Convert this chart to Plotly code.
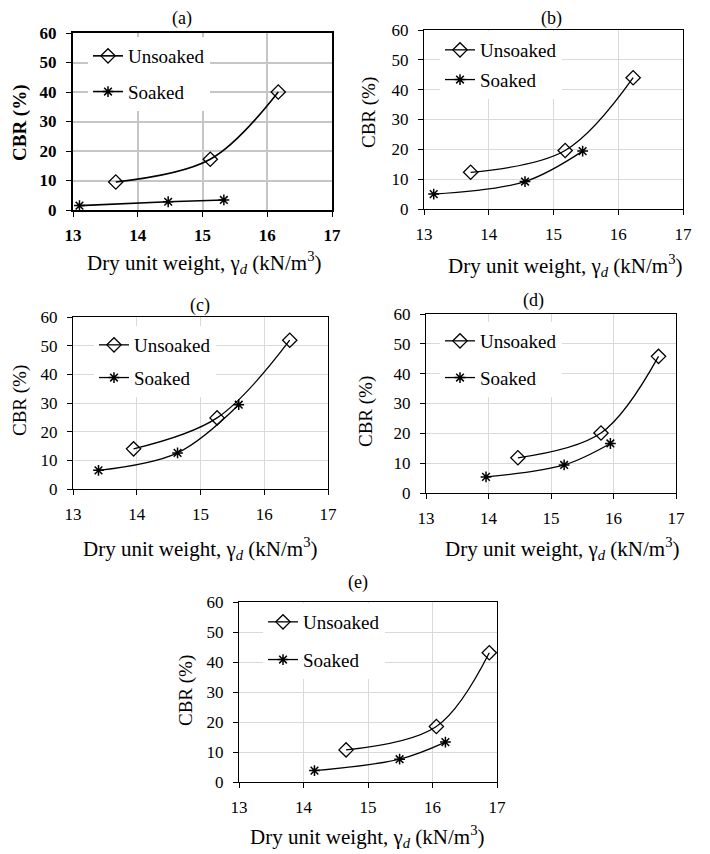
import plotly.graph_objects as go

# the page keeps the browser's default 8px body margin; the figure fills the rest of the window
OFF = 8
W, H = 710 - OFF, 854 - OFF

# ---------------- data ----------------
panels = ["(a)", "(b)", "(c)", "(d)", "(e)"]
series_names = ["Unsoaked", "Soaked"]
x_ticks = [13, 14, 15, 16, 17]
y_ticks = [0, 10, 20, 30, 40, 50, 60]

a_uns_x = [13.66, 15.12, 16.17]
a_uns_y = [9.5, 17.2, 40.0]
a_soak_x = [13.10, 14.47, 15.33]
a_soak_y = [1.5, 2.8, 3.4]

b_uns_x = [13.72, 15.18, 16.23]
b_uns_y = [12.3, 19.6, 44.0]
b_soak_x = [13.15, 14.56, 15.45]
b_soak_y = [5.0, 9.2, 19.4]

c_uns_x = [13.95, 15.26, 16.40]
c_uns_y = [14.0, 24.8, 51.9]
c_soak_x = [13.40, 14.64, 15.60]
c_soak_y = [6.5, 12.6, 29.4]

d_uns_x = [14.47, 15.80, 16.72]
d_uns_y = [11.8, 20.1, 45.8]
d_soak_x = [13.96, 15.21, 15.95]
d_soak_y = [5.4, 9.4, 16.6]

e_uns_x = [14.66, 16.06, 16.88]
e_uns_y = [10.7, 18.5, 43.1]
e_soak_x = [14.17, 15.49, 16.20]
e_soak_y = [3.8, 7.6, 13.3]

data = [
    (a_uns_x, a_uns_y, a_soak_x, a_soak_y),
    (b_uns_x, b_uns_y, b_soak_x, b_soak_y),
    (c_uns_x, c_uns_y, c_soak_x, c_soak_y),
    (d_uns_x, d_uns_y, d_soak_x, d_soak_y),
    (e_uns_x, e_uns_y, e_soak_x, e_soak_y),
]

# ---------------- layout (pixel positions in the window) ----------------
boxes = [
    (73, 332, 33, 210),
    (424, 683, 30, 209),
    (73, 328, 317, 489),
    (426, 676, 314, 493),
    (239, 497, 602, 782),
]
title_pos = [(182, 19), (551, 19), (200, 306), (533, 300), (358, 582)]
xtitle_pos = [(204, 263), (565, 265), (200, 548), (562, 548), (367, 836)]
ytitle_pos = [(20, 123), (369, 113), (20, 401), (366, 412), (186, 691)]
legend_pos = [(88, 37, 8), (440, 31, 2), (94, 326, 5), (440, 322, 9), (263, 603, 10)]

FONT = "Liberation Serif"


def px(x):
    return (x - OFF) / W


def py(y):
    return 1 - (y - OFF) / H


fig = go.Figure()

for i, (ux, uy, sx, sy) in enumerate(data):
    k = "" if i == 0 else str(i + 1)
    leg = "legend" + k
    xa = "x" + k
    ya = "y" + k
    lw = 1.6 if i == 0 else 1.3
    fig.add_trace(go.Scatter(
        x=ux, y=uy, mode="lines+markers", name=series_names[0],
        line=dict(color="black", width=lw, shape="spline", smoothing=1.0),
        marker=dict(symbol="diamond-open", size=11, color="black",
                    line=dict(color="black", width=1.3)),
        xaxis=xa, yaxis=ya, legend=leg, legendgroup=f"u{i}", showlegend=True))
    fig.add_trace(go.Scatter(
        x=sx, y=sy, mode="lines+markers", name=series_names[1],
        line=dict(color="black", width=lw, shape="spline", smoothing=1.0),
        marker=dict(symbol="asterisk-open", size=9, color="black",
                    line=dict(color="black", width=1.5)),
        xaxis=xa, yaxis=ya, legend=leg, legendgroup=f"s{i}", showlegend=True))

layout = dict(
    width=W, height=H,
    margin=dict(l=0, r=0, t=0, b=0, autoexpand=False),
    paper_bgcolor="white", plot_bgcolor="white",
    font=dict(family=FONT, color="black"),
    annotations=[],
)

for i, (l, r, t, b) in enumerate(boxes):
    k = "" if i == 0 else str(i + 1)
    bold = (i == 0)
    gridc = "#c6c6c6" if bold else "#d9d9d9"
    gridw = 2 if bold else 1
    linew = 2 if bold else 1.3
    tf = dict(family=FONT, size=17, color="black", weight="bold" if bold else "normal")
    layout["xaxis" + k] = dict(
        domain=[px(l), px(r)], anchor="y" + k,
        range=[13, 17], tickvals=x_ticks, ticktext=[str(v) for v in x_ticks],
        showgrid=True, gridcolor=gridc, gridwidth=gridw,
        showline=True, linecolor="black", linewidth=linew, mirror=True,
        ticks="outside", ticklen=5, tickcolor="black", tickwidth=1,
        tickfont=tf, ticklabelstandoff=4, zeroline=False, fixedrange=True,
        automargin=False)
    layout["yaxis" + k] = dict(
        domain=[py(b), py(t)], anchor="x" + k,
        range=[0, 60], tickvals=y_ticks, ticktext=[str(v) for v in y_ticks],
        showgrid=True, gridcolor=gridc, gridwidth=gridw,
        showline=True, linecolor="black", linewidth=linew, mirror=True,
        ticks="outside", ticklen=5, tickcolor="black", tickwidth=1,
        tickfont=tf, ticklabelstandoff=6, zeroline=False, fixedrange=True,
        automargin=False)

    lx, ly, gap = legend_pos[i]
    layout["legend" + k] = dict(
        x=px(lx), y=py(ly), xanchor="left", yanchor="top",
        bgcolor="white", borderwidth=0,
        font=dict(family=FONT, size=19, color="black"),
        tracegroupgap=gap, traceorder="grouped", itemwidth=30)

    tx, ty = title_pos[i]
    layout["annotations"].append(dict(
        x=px(tx), y=py(ty), xref="paper", yref="paper", text=panels[i],
        showarrow=False, xanchor="center", yanchor="middle",
        font=dict(family=FONT, size=18, color="black")))
    xx, xy = xtitle_pos[i]
    layout["annotations"].append(dict(
        x=px(xx), y=py(xy), xref="paper", yref="paper",
        text="Dry unit weight, γ<sub><i>d</i></sub> (kN/m<sup>3</sup>)",
        showarrow=False, xanchor="center", yanchor="middle",
        font=dict(family=FONT, size=21, color="black")))
    yx, yy = ytitle_pos[i]
    layout["annotations"].append(dict(
        x=px(yx), y=py(yy), xref="paper", yref="paper",
        text="<b>CBR (%)</b>" if bold else "CBR (%)", textangle=-90,
        showarrow=False, xanchor="center", yanchor="middle",
        font=dict(family=FONT, size=19, color="black")))

fig.update_layout(**layout)
fig.write_html("out.html")
